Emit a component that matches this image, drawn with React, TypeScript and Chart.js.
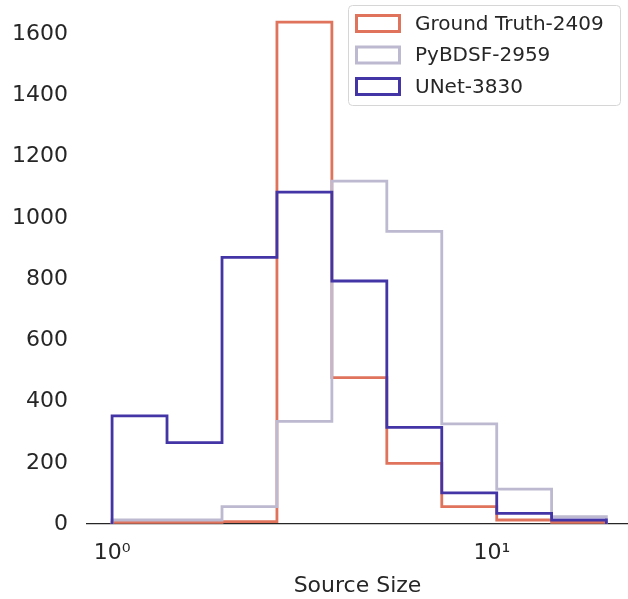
import { useEffect, useRef } from "react";
import { Chart, registerables } from "chart.js";

Chart.register(...registerables);

// Histogram bin edges (log-spaced)
const binEdges = [1.0, 1.395, 1.947, 2.716, 3.789, 5.286, 7.375, 10.29, 14.35, 20.0];

// Counts per bin
const groundTruth = [5, 5, 8, 1640, 478, 198, 57, 13, 5];
const pybdsf = [13, 13, 57, 335, 1120, 956, 327, 114, 24];
const unet = [353, 266, 871, 1084, 794, 316, 102, 35, 13];

const seriesLabels = ["Ground Truth-2409", "PyBDSF-2959", "UNet-3830"];
const seriesColors = ["#e0735c", "#bcb9d0", "#4335a5"];

const xTickValues = [1, 10];
const xTickLabels = ["10⁰", "10¹"];
const yTickValues = [0, 200, 400, 600, 800, 1000, 1200, 1400, 1600];

const xMin = 0.859;
const xMax = 22.8;
const yMax = 1712;

const FONT = "'DejaVu Sans', sans-serif";
const TEXT = "#262626";

function stepPoints(counts: number[]) {
  const pts: { x: number; y: number }[] = [{ x: binEdges[0], y: 0 }];
  counts.forEach((c, i) => pts.push({ x: binEdges[i], y: c }));
  const last = binEdges[binEdges.length - 1];
  pts.push({ x: last, y: counts[counts.length - 1] });
  pts.push({ x: last, y: 0 });
  return pts;
}

const legendPlugin = {
  id: "customLegend",
  afterDraw(chart: any) {
    const ctx = chart.ctx as CanvasRenderingContext2D;
    ctx.save();
    const bx = 348.5, by = 5.5, bw = 272, bh = 100, r = 4;
    ctx.beginPath();
    ctx.moveTo(bx + r, by);
    ctx.lineTo(bx + bw - r, by);
    ctx.quadraticCurveTo(bx + bw, by, bx + bw, by + r);
    ctx.lineTo(bx + bw, by + bh - r);
    ctx.quadraticCurveTo(bx + bw, by + bh, bx + bw - r, by + bh);
    ctx.lineTo(bx + r, by + bh);
    ctx.quadraticCurveTo(bx, by + bh, bx, by + bh - r);
    ctx.lineTo(bx, by + r);
    ctx.quadraticCurveTo(bx, by, bx + r, by);
    ctx.closePath();
    ctx.fillStyle = "rgba(255,255,255,0.85)";
    ctx.fill();
    ctx.strokeStyle = "#d6d6d6";
    ctx.lineWidth = 1;
    ctx.stroke();

    const rows = [23.5, 55, 86.5];
    chart.data.datasets.forEach((ds: any, i: number) => {
      const cy = rows[i];
      ctx.strokeStyle = ds.borderColor;
      ctx.lineWidth = 3;
      ctx.strokeRect(356.5, cy - 8, 43, 16);
      ctx.fillStyle = TEXT;
      ctx.font = `20px ${FONT}`;
      ctx.textBaseline = "middle";
      ctx.textAlign = "left";
      ctx.fillText(ds.label, 415, cy + 1);
    });
    ctx.restore();
  },
};

export default function App() {
  const canvasRef = useRef<HTMLCanvasElement | null>(null);

  useEffect(() => {
    if (!canvasRef.current) return;
    const seriesData = [groundTruth, pybdsf, unet];
    const chart = new Chart(canvasRef.current, {
      type: "line",
      data: {
        datasets: seriesData.map((d, i) => ({
          label: seriesLabels[i],
          data: stepPoints(d),
          borderColor: seriesColors[i],
          backgroundColor: "transparent",
          borderWidth: 2.8,
          stepped: "before" as const,
          pointRadius: 0,
          fill: false,
          order: 3 - i,
          borderJoinStyle: "miter" as const,
          borderCapStyle: "butt" as const,
        })),
      },
      options: {
        animation: false,
        responsive: true,
        maintainAspectRatio: false,
        layout: { padding: 0 },
        plugins: {
          legend: { display: false },
          tooltip: { enabled: false },
        },
        scales: {
          x: {
            type: "logarithmic",
            min: xMin,
            max: xMax,
            grid: { display: false, drawTicks: false },
            border: { display: true, color: TEXT, width: 1.3 },
            afterBuildTicks: (scale: any) => {
              scale.ticks = xTickValues.map((v) => ({ value: v }));
            },
            afterFit: (scale: any) => {
              scale.height = 75;
              scale.paddingLeft = 0;
              scale.paddingRight = 0;
            },
            ticks: {
              autoSkip: false,
              maxRotation: 0,
              padding: 16,
              color: TEXT,
              font: { family: FONT, size: 22 },
              callback: (v: any) => {
                const idx = xTickValues.indexOf(Number(v));
                return idx >= 0 ? xTickLabels[idx] : "";
              },
            },
            title: {
              display: true,
              text: "Source Size",
              color: TEXT,
              font: { family: FONT, size: 22 },
              padding: { top: 0, bottom: 0 },
            },
          },
          y: {
            type: "linear",
            min: 0,
            max: yMax,
            grid: { display: false, drawTicks: false },
            border: { display: false },
            afterBuildTicks: (scale: any) => {
              scale.ticks = yTickValues.map((v) => ({ value: v }));
            },
            afterFit: (scale: any) => {
              scale.width = 87;
              scale.paddingTop = 0;
              scale.paddingBottom = 0;
            },
            ticks: {
              padding: 19,
              color: TEXT,
              font: { family: FONT, size: 22 },
              callback: (v: any) => String(v),
            },
          },
        },
      },
      plugins: [legendPlugin],
    });
    return () => chart.destroy();
  }, []);

  return (
    <div style={{ position: "absolute", left: 0, top: 0, width: 628, height: 599 }}>
      <canvas ref={canvasRef} />
    </div>
  );
}
